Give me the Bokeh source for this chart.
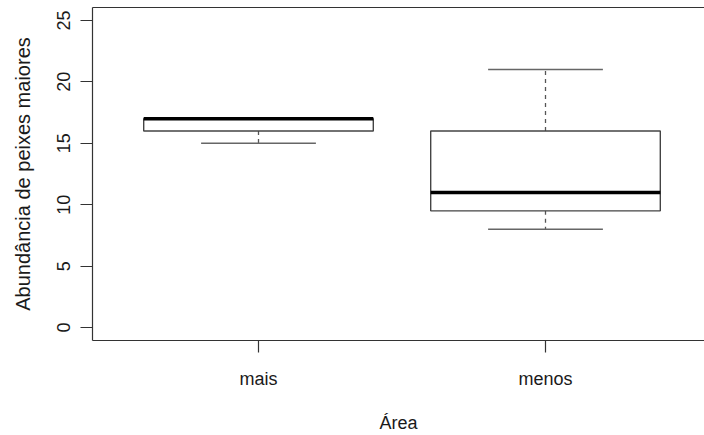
from bokeh.plotting import figure
from bokeh.models import Range1d, FixedTicker, ColumnDataSource, LinearAxis
from bokeh.embed import file_html
from bokeh.resources import INLINE

# ---- data ----
areas = ["mais", "menos"]
positions = [1, 2]
lower_whisker = [15, 8]
q1 = [16, 9.5]
medians = [17, 11]
q3 = [17, 16]
upper_whisker = [17, 21]
y_ticks = [0, 5, 10, 15, 20, 25]

box_half = 0.4
cap_half = 0.2

src = ColumnDataSource(dict(
    x=positions,
    left=[x - box_half for x in positions],
    right=[x + box_half for x in positions],
    cl=[x - cap_half for x in positions],
    cr=[x + cap_half for x in positions],
    q1=q1, q3=q3, med=medians, lo=lower_whisker, hi=upper_whisker,
))

FONT = "Liberation Sans"

p = figure(width=704, height=435, output_backend="svg", toolbar_location=None,
           x_range=Range1d(0.4216, 2.554), y_range=Range1d(-1.055, 26.05),
           min_border_left=92, min_border_right=0, min_border_top=7,
           min_border_bottom=94)
p.grid.visible = False
p.outline_line_color = None

xax = p.below[0]
yax = p.left[0]

# top border of the box (the reference is cut off at the right edge)
top = LinearAxis(ticker=FixedTicker(ticks=[]), axis_line_color="#333333",
                 axis_line_width=1.2, major_tick_line_color=None,
                 minor_tick_line_color=None, major_label_text_font_size="0px",
                 major_label_standoff=0, major_tick_out=0, major_tick_in=0)
p.add_layout(top, "above")

# whiskers (dashed)
p.segment(x0="x", y0="q3", x1="x", y1="hi", source=src,
          line_color="#555555", line_width=1.3, line_dash="4 4")
p.segment(x0="x", y0="q1", x1="x", y1="lo", source=src,
          line_color="#555555", line_width=1.3, line_dash="4 4")
# caps
p.segment(x0="cl", y0="hi", x1="cr", y1="hi", source=src,
          line_color="#666666", line_width=1.6)
p.segment(x0="cl", y0="lo", x1="cr", y1="lo", source=src,
          line_color="#666666", line_width=1.6)
# boxes
p.quad(left="left", right="right", bottom="q1", top="q3", source=src,
       fill_color="white", line_color="#444444", line_width=1.4)
# medians
p.segment(x0="left", y0="med", x1="right", y1="med", source=src,
          line_color="black", line_width=3.5)

# axes
for ax in (xax, yax):
    ax.major_tick_out = 12
    ax.major_tick_in = 0
    ax.minor_tick_line_color = None
    ax.axis_line_color = "#333333"
    ax.axis_line_width = 1.2
    ax.major_tick_line_color = "#333333"
    ax.major_tick_line_width = 1.2
    ax.major_label_text_font = FONT
    ax.major_label_text_font_size = "18px"
    ax.major_label_text_color = "#1a1a1a"
    ax.axis_label_text_font = FONT
    ax.axis_label_text_font_style = "normal"
    ax.axis_label_text_color = "#1a1a1a"

xax.ticker = FixedTicker(ticks=positions)
xax.major_label_overrides = dict(zip(positions, areas))
xax.axis_label = "Área"
xax.axis_label_text_font_size = "18px"
xax.major_label_standoff = 16
xax.axis_label_standoff = 21

yax.ticker = FixedTicker(ticks=y_ticks)
yax.major_label_orientation = "vertical"
yax.axis_label = "Abundância de peixes maiores"
yax.axis_label_text_font_size = "20px"
yax.major_label_standoff = 10
yax.axis_label_standoff = 21

open("out.html", "w").write(file_html(p, INLINE))
